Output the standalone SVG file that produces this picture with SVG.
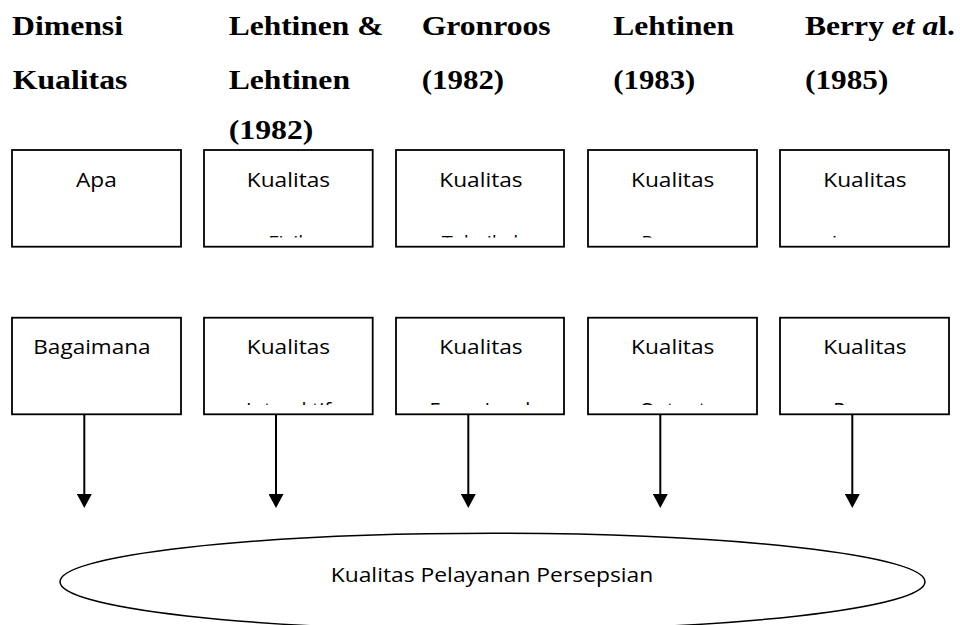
<svg xmlns="http://www.w3.org/2000/svg" width="960" height="625" viewBox="0 0 960 625">
<style>
.hd{font-family:"Liberation Serif","Times New Roman",serif;font-weight:bold;font-size:28px;fill:#000}
.bx{fill:#fff;stroke:#000;stroke-width:1.8}
.t{font-family:"Open Sans","Noto Sans",sans-serif;font-size:20px;fill:#000}
.c{text-anchor:middle}
.ar{stroke:#000;stroke-width:2;fill:none}
</style>
<defs>
<marker id="ah" markerUnits="userSpaceOnUse" markerWidth="15" markerHeight="15" viewBox="0 0 14 15" refX="0" refY="7.5" orient="auto">
<path d="M0,0 L14,7.5 L0,15 z" fill="#000"/>
</marker>
<clipPath id="clip1"><rect x="0" y="150" width="960" height="87.5"/></clipPath>
<clipPath id="clip2"><rect x="0" y="318" width="960" height="87"/></clipPath>
</defs>
<g id="headers">
<text class="hd" x="12" y="35" textLength="111" lengthAdjust="spacingAndGlyphs">Dimensi</text>
<text class="hd" x="12.7" y="89.3" textLength="114.7" lengthAdjust="spacingAndGlyphs">Kualitas</text>
<text class="hd" x="228.7" y="35" textLength="154.7" lengthAdjust="spacingAndGlyphs">Lehtinen &amp;</text>
<text class="hd" x="228.7" y="89.3" textLength="121.3" lengthAdjust="spacingAndGlyphs">Lehtinen</text>
<text class="hd" x="228.7" y="138.5" textLength="84.7" lengthAdjust="spacingAndGlyphs">(1982)</text>
<text class="hd" x="421.7" y="35" textLength="129" lengthAdjust="spacingAndGlyphs">Gronroos</text>
<text class="hd" x="421.7" y="89.3" textLength="82.5" lengthAdjust="spacingAndGlyphs">(1982)</text>
<text class="hd" x="613.3" y="35" textLength="120.7" lengthAdjust="spacingAndGlyphs">Lehtinen</text>
<text class="hd" x="613.3" y="89.3" textLength="82" lengthAdjust="spacingAndGlyphs">(1983)</text>
<text class="hd" x="805" y="35" textLength="150" lengthAdjust="spacingAndGlyphs">Berry <tspan font-style="italic">et a</tspan>l.</text>
<text class="hd" x="805" y="89.3" textLength="83.3" lengthAdjust="spacingAndGlyphs">(1985)</text>
</g>
<g id="box-apa">
<rect class="bx" x="12" y="150" width="169" height="96.7"/>
<text class="t" x="76" y="186.7" textLength="40.7" lengthAdjust="spacingAndGlyphs">Apa</text>
</g>
<g id="box-fisik">
<rect class="bx" x="204" y="150" width="168.7" height="96.7"/>
<text class="t c" x="288.5" y="186.7" textLength="83.3" lengthAdjust="spacingAndGlyphs">Kualitas</text>
<text class="t c" x="288.5" y="250" clip-path="url(#clip1)">Fisik</text>
</g>
<g id="box-teknikal">
<rect class="bx" x="396" y="150" width="168" height="96.7"/>
<text class="t c" x="481" y="186.7" textLength="83.3" lengthAdjust="spacingAndGlyphs">Kualitas</text>
<text class="t c" x="480" y="250" clip-path="url(#clip1)">Teknikal</text>
</g>
<g id="box-proses1">
<rect class="bx" x="588" y="150" width="169" height="96.7"/>
<text class="t c" x="672.7" y="186.7" textLength="83.3" lengthAdjust="spacingAndGlyphs">Kualitas</text>
<text class="t c" x="672.5" y="250" clip-path="url(#clip1)">Proses</text>
</g>
<g id="box-luaran">
<rect class="bx" x="780" y="150" width="169" height="96.7"/>
<text class="t c" x="865" y="186.7" textLength="83.3" lengthAdjust="spacingAndGlyphs">Kualitas</text>
<text class="t c" x="864.5" y="250" clip-path="url(#clip1)">Luaran</text>
</g>
<g id="box-bagaimana">
<rect class="bx" x="12" y="317.7" width="169" height="96.6"/>
<text class="t" x="33.3" y="354.3" textLength="117.3" lengthAdjust="spacingAndGlyphs">Bagaimana</text>
</g>
<g id="box-interaktif">
<rect class="bx" x="204" y="317.7" width="168.7" height="96.6"/>
<text class="t c" x="288.5" y="354.3" textLength="83.3" lengthAdjust="spacingAndGlyphs">Kualitas</text>
<text class="t c" x="288.5" y="416.5" clip-path="url(#clip2)">Interaktif</text>
</g>
<g id="box-fungsional">
<rect class="bx" x="396" y="317.7" width="168" height="96.6"/>
<text class="t c" x="481" y="354.3" textLength="83.3" lengthAdjust="spacingAndGlyphs">Kualitas</text>
<text class="t c" x="480" y="416.5" clip-path="url(#clip2)">Fungsional</text>
</g>
<g id="box-output">
<rect class="bx" x="588" y="317.7" width="169" height="96.6"/>
<text class="t c" x="672.7" y="354.3" textLength="83.3" lengthAdjust="spacingAndGlyphs">Kualitas</text>
<text class="t c" x="672.5" y="416.5" clip-path="url(#clip2)">Output</text>
</g>
<g id="box-proses2">
<rect class="bx" x="780" y="317.7" width="169" height="96.6"/>
<text class="t c" x="865" y="354.3" textLength="83.3" lengthAdjust="spacingAndGlyphs">Kualitas</text>
<text class="t c" x="864.5" y="416.5" clip-path="url(#clip2)">Proses</text>
</g>
<g id="connectors">
<line class="ar" x1="84.3" y1="414.3" x2="84.3" y2="494" marker-end="url(#ah)"/>
<line class="ar" x1="276" y1="414.3" x2="276" y2="494" marker-end="url(#ah)"/>
<line class="ar" x1="468.3" y1="414.3" x2="468.3" y2="494" marker-end="url(#ah)"/>
<line class="ar" x1="660.3" y1="414.3" x2="660.3" y2="494" marker-end="url(#ah)"/>
<line class="ar" x1="852.3" y1="414.3" x2="852.3" y2="494" marker-end="url(#ah)"/>
</g>
<g id="ellipse-persepsian">
<ellipse cx="492.5" cy="581.7" rx="432.5" ry="48.4" fill="#fff" stroke="#000" stroke-width="1.5"/>
<text class="t" x="330.7" y="581.7" textLength="322.6" lengthAdjust="spacingAndGlyphs">Kualitas Pelayanan Persepsian</text>
</g>
</svg>
